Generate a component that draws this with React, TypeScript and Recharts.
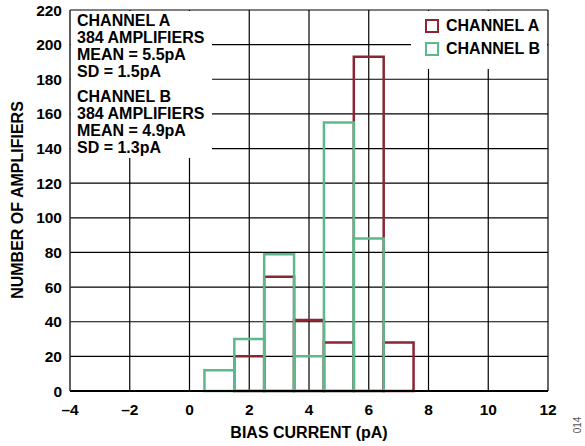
import { CartesianGrid, ComposedChart, ReferenceArea, XAxis, YAxis } from "recharts";

const X_TICKS = [-4, -2, 0, 2, 4, 6, 8, 10, 12];
const Y_TICKS = [0, 20, 40, 60, 80, 100, 120, 140, 160, 180, 200, 220];

const BIN_WIDTH = 1;
const CENTERS_A = [2, 3, 4, 5, 6, 7];
const COUNTS_A = [20, 66, 41, 28, 193, 28];
const CENTERS_B = [1, 2, 3, 4, 5, 6];
const COUNTS_B = [12, 30, 79, 20, 155, 88];

const STATS_A = ["CHANNEL A", "384 AMPLIFIERS", "MEAN = 5.5pA", "SD = 1.5pA"];
const STATS_B = ["CHANNEL B", "384 AMPLIFIERS", "MEAN = 4.9pA", "SD = 1.3pA"];

const RED = "#8d2432";
const GREEN = "#5bb98c";
const FONT = '"Liberation Sans", Arial, sans-serif';

const tickStyle = { fontSize: 15.5, fontWeight: 700, fill: "#000", fontFamily: FONT };

function formatTick(v: number) {
  return String(v).replace("-", "\u2013");
}

function bins(centers: number[], counts: number[]) {
  return centers.map((c, i) => ({ x1: c - BIN_WIDTH / 2, x2: c + BIN_WIDTH / 2, y: counts[i] }));
}

function StatsBlock({ lines, top }: { lines: string[]; top: number }) {
  return (
    <div style={{ position: "absolute", left: 77, top, lineHeight: "17px" }}>
      {lines.map((l) => (
        <div key={l}>{l}</div>
      ))}
    </div>
  );
}

function LegendItem({ color, label, top }: { color: string; label: string; top: number }) {
  return (
    <div style={{ position: "absolute", left: 425, top, display: "flex", alignItems: "center" }}>
      <div
        style={{
          width: 10,
          height: 10,
          border: `2.5px solid ${color}`,
          marginRight: 7,
        }}
      />
      <span>{label}</span>
    </div>
  );
}

export default function App() {
  const binsA = bins(CENTERS_A, COUNTS_A);
  const binsB = bins(CENTERS_B, COUNTS_B);

  return (
    <div
      style={{
        position: "absolute",
        left: 0,
        top: 0,
        width: 585,
        height: 446,
        background: "#fff",
        fontFamily: FONT,
        fontWeight: 700,
        fontSize: 16,
        color: "#000",
      }}
    >
      <ComposedChart width={585} height={446} margin={{ top: 10, right: 37, bottom: 25, left: 8 }}>
        <CartesianGrid stroke="#000" strokeWidth={1.2} />
        <XAxis
          type="number"
          dataKey="x"
          domain={[-4, 12]}
          ticks={X_TICKS}
          tickFormatter={formatTick}
          tick={tickStyle}
          tickLine={false}
          tickMargin={7}
          height={30}
          axisLine={{ stroke: "#000", strokeWidth: 2 }}
          allowDataOverflow
          label={{
            value: "BIAS CURRENT (pA)",
            position: "bottom",
            offset: 6,
            style: { fontSize: 16, fontWeight: 700, fill: "#000", fontFamily: FONT },
          }}
        />
        <YAxis
          type="number"
          domain={[0, 220]}
          ticks={Y_TICKS}
          tick={tickStyle}
          tickLine={false}
          width={62}
          axisLine={{ stroke: "#555", strokeWidth: 1 }}
          allowDataOverflow
        />
        {binsA.map((b, i) => (
          <ReferenceArea
            key={`a${i}`}
            x1={b.x1}
            x2={b.x2}
            y1={0}
            y2={b.y}
            fill="none"
            fillOpacity={0}
            stroke={RED}
            strokeWidth={2.5}
          />
        ))}
        {binsB.map((b, i) => (
          <ReferenceArea
            key={`b${i}`}
            x1={b.x1}
            x2={b.x2}
            y1={0}
            y2={b.y}
            fill="none"
            fillOpacity={0}
            stroke={GREEN}
            strokeWidth={2.5}
          />
        ))}
      </ComposedChart>

      <div style={{ position: "absolute", left: 71, top: 11, width: 141, height: 147, background: "#fff" }} />
      <div style={{ position: "absolute", left: 411, top: 11, width: 136, height: 58, background: "#fff" }} />
      <StatsBlock lines={STATS_A} top={12} />
      <StatsBlock lines={STATS_B} top={88} />
      <LegendItem color={RED} label="CHANNEL A" top={17} />
      <LegendItem color={GREEN} label="CHANNEL B" top={40} />

      <div
        style={{
          position: "absolute",
          left: 18,
          top: 200,
          transform: "translate(-50%, -50%) rotate(-90deg)",
          whiteSpace: "nowrap",
        }}
      >
        NUMBER OF AMPLIFIERS
      </div>
      <div
        style={{
          position: "absolute",
          left: 577,
          top: 425,
          transform: "translate(-50%, -50%) rotate(-90deg)",
          fontSize: 10,
          fontWeight: 400,
          color: "#555",
        }}
      >
        014
      </div>
    </div>
  );
}
